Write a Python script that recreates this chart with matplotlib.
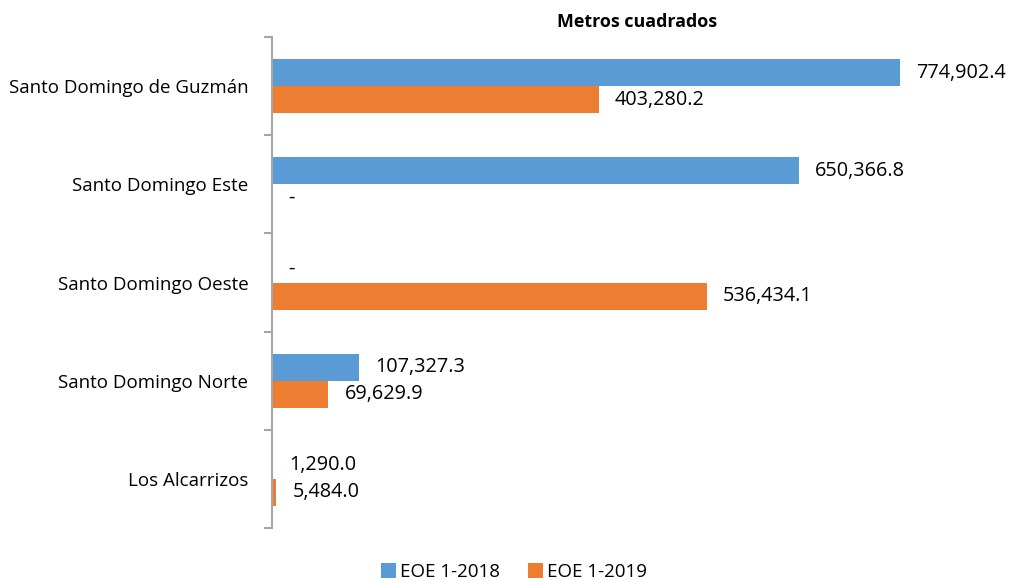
import matplotlib
matplotlib.use("Agg")
import matplotlib.pyplot as plt
import numpy as np
from matplotlib.ticker import FixedLocator

categories = ["Santo Domingo de Guzmán", "Santo Domingo Este", "Santo Domingo Oeste",
              "Santo Domingo Norte", "Los Alcarrizos"]
eoe_2018 = [774902.4, 650366.8, 0.0, 107327.3, 1290.0]
eoe_2019 = [403280.2, 0.0, 536434.1, 69629.9, 5484.0]
series_names = ["EOE 1-2018", "EOE 1-2019"]
title = "Metros cuadrados"

blue = "#5B9BD5"
orange = "#ED7D31"
plt.rcParams['font.family'] = ['Open Sans', 'DejaVu Sans']

fig = plt.figure(figsize=(10.11, 5.81), dpi=100)
ax = fig.add_axes([272/1011, 1-528/581, (1001-272)/1011, (528-37)/581])

n = len(categories)
y = np.arange(n)
h = 0.275
b1 = ax.barh(y - h/2, eoe_2018, height=h, color=blue, label=series_names[0])
b2 = ax.barh(y + h/2, eoe_2019, height=h, color=orange, label=series_names[1])

def fmt(v):
    return "-" if v == 0 else f"{v:,.1f}"

for bars, vals in ((b1, eoe_2018), (b2, eoe_2019)):
    for rect, v in zip(bars, vals):
        ax.annotate(fmt(v), xy=(rect.get_width(), rect.get_y() + rect.get_height()/2),
                    xytext=(16, 0), textcoords="offset pixels",
                    ha="left", va="center", fontsize=14.3, color="black")

ax.set_xlim(0, 900000)
ax.set_ylim(n - 0.5, -0.5)
ax.set_yticks(y)
ax.set_yticklabels(categories, fontsize=13.5)
ax.yaxis.set_minor_locator(FixedLocator(np.arange(-0.5, n, 1.0)))
ax.tick_params(axis="y", which="major", length=0, pad=17)
ax.tick_params(axis="y", which="minor", length=6, width=1.5, color="#A6A6A6")
ax.set_xticks([])
for s in ("top", "right", "bottom"):
    ax.spines[s].set_visible(False)
ax.spines["left"].set_color("#A6A6A6")
ax.spines["left"].set_linewidth(1.5)

fig.text(637/1011, 1-22/581, title, ha="center", va="center", fontsize=12.9, fontweight="bold")

leg = fig.legend(handles=[b1, b2], labels=series_names, loc="center",
                 bbox_to_anchor=(514/1011, 1-572/581), ncol=2, frameon=False,
                 fontsize=13.5, handlelength=0.8, handleheight=0.8, handletextpad=0.2,
                 columnspacing=1.5)

fig.savefig("out.png", dpi=100)
